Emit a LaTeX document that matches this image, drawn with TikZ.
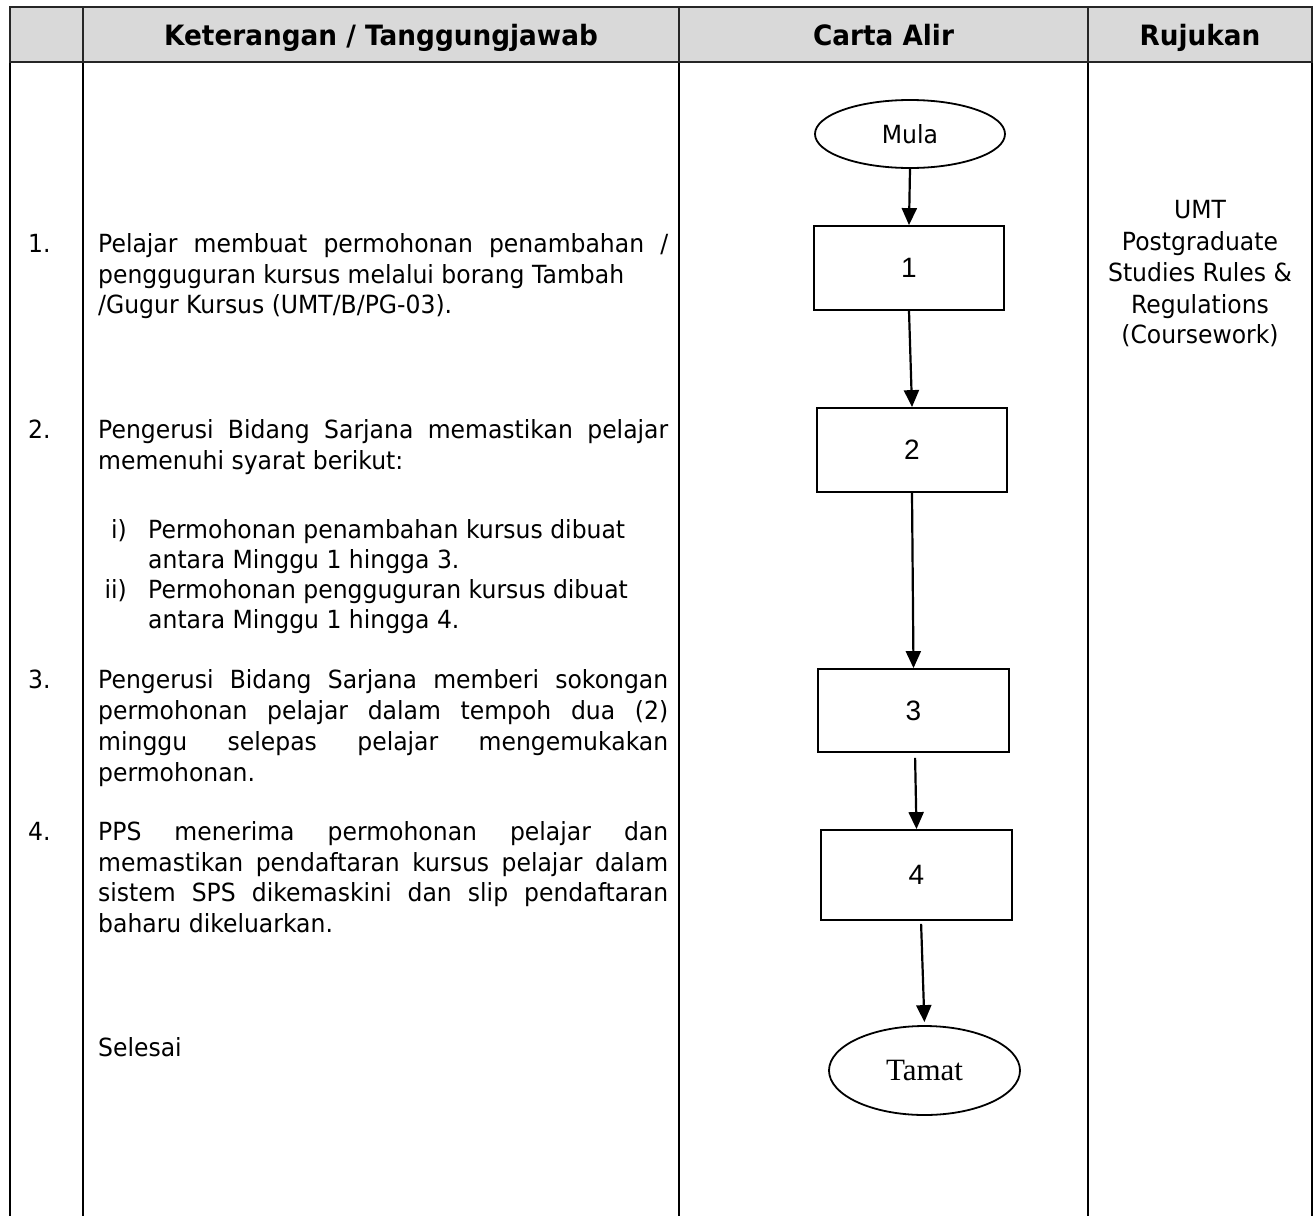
\documentclass[tikz,border=0pt]{standalone}
\usepackage{fontspec}
\setmainfont{DejaVu Sans}[FakeStretch=0.94]
\newfontfamily\arialf{Liberation Sans}
\newfontfamily\timesf{Liberation Serif}
\usetikzlibrary{shapes.geometric,arrows.meta}
\definecolor{hdrgray}{HTML}{D9D9D9}
\begin{document}
\begin{tikzpicture}[x=1pt,y=-1pt,
  hdrtxt/.style={inner sep=0pt,anchor=base,font=\fontsize{28}{32}\selectfont\bfseries},
  txt/.style={inner sep=0pt,anchor=base west,font=\fontsize{25}{30}\selectfont},
  numtxt/.style={txt},
  subl/.style={inner sep=0pt,anchor=base east,font=\fontsize{25}{30}\selectfont},
  rujtxt/.style={inner sep=0pt,anchor=base,font=\fontsize{25}{30}\selectfont},
  fbox/.style={draw,line width=1.8pt,rectangle,inner sep=0pt,minimum width=190pt,font=\arialf\fontsize{28}{32}\selectfont},
  term/.style={draw,line width=1.8pt,ellipse,inner sep=0pt},
  arr/.style={line width=2.2pt,-{Triangle[length=17pt,width=15pt]}},
  hline/.style={line width=2pt,draw=black!85},
  vline/.style={line width=1.2pt}
]
\useasboundingbox (0,0) rectangle (1315,1216);
\fill[white] (0,0) rectangle (1315,1216);
% table
\fill[hdrgray] (10,7) rectangle (1312,62);
\draw[vline] (10,62) -- (10,1216);
\draw[vline] (83,62) -- (83,1216);
\draw[vline,line width=1.6pt] (679,62) -- (679,1216);
\draw[vline] (1088,62) -- (1088,1216);
\draw[vline] (1312,62) -- (1312,1216);
\draw[hline] (10,7) rectangle (1312,62);
\draw[hline] (83,7) -- (83,62);
\draw[hline] (679,7) -- (679,62);
\draw[hline,line width=1.4pt] (1088,7) -- (1088,62);
% header
\node[hdrtxt] (h1) at (381,45) {Keterangan / Tanggungjawab};
\node[hdrtxt] (h2) at (883.5,45) {Carta Alir};
\node[hdrtxt] (h3) at (1200,45) {Rujukan};
% item 1
\node[numtxt] (n1) at (28,252) {1.};
\node[txt] (t1a) at (98,252) {\makebox[570pt][s]{Pelajar membuat permohonan penambahan /}};
\node[txt] (t1b) at (98,283) {pengguguran kursus melalui borang Tambah};
\node[txt] (t1c) at (98,313) {/Gugur Kursus (UMT/B/PG-03).};
% item 2
\node[numtxt] (n2) at (28,438) {2.};
\node[txt] (t2a) at (98,438) {\makebox[570pt][s]{Pengerusi Bidang Sarjana memastikan pelajar}};
\node[txt] (t2b) at (98,469) {memenuhi syarat berikut:};
\node[subl] (s1) at (127,538) {i)};
\node[txt] (t2c) at (148,538) {Permohonan penambahan kursus dibuat};
\node[txt] (t2d) at (148,568) {antara Minggu 1 hingga 3.};
\node[subl] (s2) at (127,598) {ii)};
\node[txt] (t2e) at (148,598) {Permohonan pengguguran kursus dibuat};
\node[txt] (t2f) at (148,628) {antara Minggu 1 hingga 4.};
% item 3
\node[numtxt] (n3) at (28,688) {3.};
\node[txt] (t3a) at (98,688) {\makebox[570pt][s]{Pengerusi Bidang Sarjana memberi sokongan}};
\node[txt] (t3b) at (98,719) {\makebox[570pt][s]{permohonan pelajar dalam tempoh dua (2)}};
\node[txt] (t3c) at (98,750) {\makebox[570pt][s]{minggu selepas pelajar mengemukakan}};
\node[txt] (t3d) at (98,781) {permohonan.};
% item 4
\node[numtxt] (n4) at (28,840) {4.};
\node[txt] (t4a) at (98,840) {\makebox[570pt][s]{PPS menerima permohonan pelajar dan}};
\node[txt] (t4b) at (98,871) {\makebox[570pt][s]{memastikan pendaftaran kursus pelajar dalam}};
\node[txt] (t4c) at (98,901) {\makebox[570pt][s]{sistem SPS dikemaskini dan slip pendaftaran}};
\node[txt] (t4d) at (98,932) {baharu dikeluarkan.};
% end
\node[txt] (t5) at (98,1056) {Selesai};
% rujukan
\node[rujtxt] (r1) at (1200,218) {UMT};
\node[rujtxt] (r2) at (1200,250) {Postgraduate};
\node[rujtxt] (r3) at (1200,281) {Studies Rules \&};
\node[rujtxt] (r4) at (1200,313) {Regulations};
\node[rujtxt] (r5) at (1200,343) {(Coursework)};
% flowchart
\node[term,minimum width=190pt,minimum height=68pt,font=\fontsize{25}{28}\selectfont] (mula) at (910,134) {Mula};
\node[fbox,minimum height=84pt] (b1) at (909,268) {1};
\node[fbox,minimum height=84pt] (b2) at (912,450) {2};
\node[fbox,minimum width=191pt,minimum height=83pt] (b3) at (913.5,710.5) {3};
\node[fbox,minimum width=191pt,minimum height=90pt] (b4) at (916.5,875) {4};
\node[term,minimum width=191pt,minimum height=89pt,font=\timesf\fontsize{31}{36}\selectfont] (tamat) at (924.5,1070.5) {Tamat};
\draw[arr] (mula.south) -- (b1.north);
\draw[arr] (b1.south) -- (b2.north);
\draw[arr] (b2.south) -- (b3.north);
\draw[arr,shorten <=5pt] ([xshift=1.5pt]b3.south) -- (b4.north);
\draw[arr,shorten <=3pt,shorten >=3pt] ([xshift=4.5pt]b4.south) -- (tamat.north);
\end{tikzpicture}
\end{document}
